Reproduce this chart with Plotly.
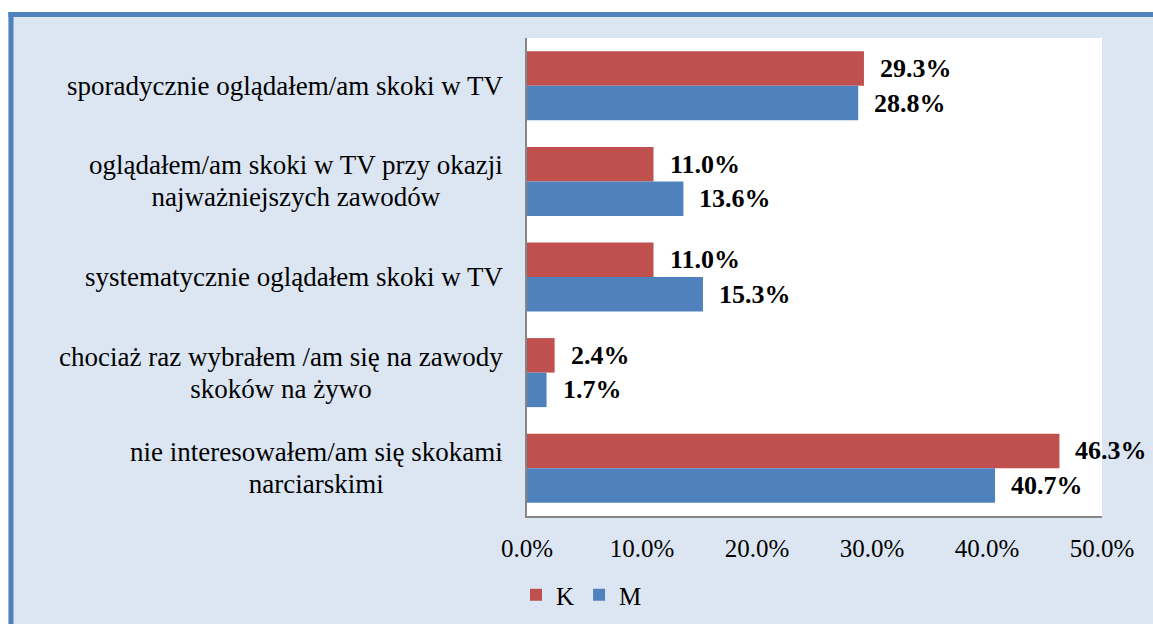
import plotly.graph_objects as go

categories = [
    "sporadycznie oglądałem/am skoki w TV",
    "oglądałem/am skoki w TV przy okazji<br>najważniejszych zawodów",
    "systematycznie oglądałem skoki w TV",
    "chociaż raz wybrałem /am się na zawody<br>skoków na żywo",
    "nie interesowałem/am się skokami<br>narciarskimi",
]
values_k = [29.3, 11.0, 11.0, 2.4, 46.3]
values_m = [28.8, 13.6, 15.3, 1.7, 40.7]
series_names = ["K", "M"]
tick_values = [0, 10, 20, 30, 40, 50]
tick_labels = [f"{v:.1f}%" for v in tick_values]

RED = "#c0504d"
BLUE = "#4f81bd"
BG = "#dce6f2"
FONT = "Liberation Serif"

cat_ids = list(range(len(categories)))

fig = go.Figure()
fig.add_trace(go.Bar(y=cat_ids, x=values_k, orientation="h", name=series_names[0],
                     marker=dict(color=RED, line=dict(width=0))))
fig.add_trace(go.Bar(y=cat_ids, x=values_m, orientation="h", name=series_names[1],
                     marker=dict(color=BLUE, line=dict(width=0))))

annotations = []
for i, c in enumerate(categories):
    txt = "<br>".join(f"<span style='font-size:27px'>{ln}</span>" for ln in c.split("<br>"))
    annotations.append(dict(x=0, xref="paper", y=i, yref="y", text=txt, showarrow=False,
                            xanchor="right", yanchor="middle", align="center", xshift=-22,
                            font=dict(family=FONT, size=24.5, color="black")))
for vals, shift in ((values_k, 17.25), (values_m, -17.25)):
    for i, v in enumerate(vals):
        annotations.append(dict(x=v, xref="x", y=i, yref="y", text=f"<b>{v:.1f}%</b>",
                                showarrow=False, xanchor="left", yanchor="middle",
                                xshift=14, yshift=shift,
                                font=dict(family=FONT, size=26, color="black")))

FW, FH = 1153, 624
L, W, T, H = 527, 575, 38, 478
def px(x):
    return (x - L) / W
def py(y):
    return (T + H - y) / H

shapes = [
    dict(type="rect", xref="paper", yref="paper", x0=-1.2, x1=1.3, y0=py(12), y1=py(-20),
         fillcolor="white", line=dict(width=0), layer="above"),
    dict(type="rect", xref="paper", yref="paper", x0=-1.2, x1=px(8), y0=-0.5, y1=py(-20),
         fillcolor="white", line=dict(width=0), layer="above"),
    dict(type="line", xref="paper", yref="paper", x0=px(8.5), x1=px(1200), y0=py(14.5), y1=py(14.5),
         line=dict(color=BLUE, width=5), layer="above"),
    dict(type="line", xref="paper", yref="paper", x0=px(11), x1=px(11), y0=py(12), y1=py(700),
         line=dict(color=BLUE, width=5), layer="above"),
]

fig.update_layout(
    width=FW, height=FH,
    margin=dict(l=L, r=FW - L - W, t=T, b=FH - T - H, pad=0, autoexpand=False),
    paper_bgcolor=BG, plot_bgcolor="white",
    barmode="group", bargap=0.278, bargroupgap=0,
    font=dict(family=FONT, size=25, color="black"),
    showlegend=True,
    legend=dict(orientation="h", x=px(516), xanchor="left", y=py(595), yanchor="middle",
                bgcolor="rgba(0,0,0,0)", font=dict(family=FONT, size=25, color="black"),
                traceorder="normal", tracegroupgap=0),
    annotations=annotations,
    shapes=shapes,
)
fig.update_xaxes(range=[0, 50], tickvals=tick_values, ticktext=tick_labels,
                 showgrid=False, zeroline=False, showline=True, linecolor="#868686", linewidth=2,
                 ticks="outside", ticklen=9, tickcolor="rgba(0,0,0,0)",
                 tickfont=dict(family=FONT, size=25, color="black"), fixedrange=True)
fig.update_yaxes(range=[4.5, -0.5], showticklabels=False, showgrid=False, zeroline=False,
                 showline=True, linecolor="#868686", linewidth=2, ticks="", fixedrange=True)

fig.write_html("out.html", config={"displayModeBar": False},
               post_script="document.body.style.margin='0';document.body.style.overflow='hidden';")
